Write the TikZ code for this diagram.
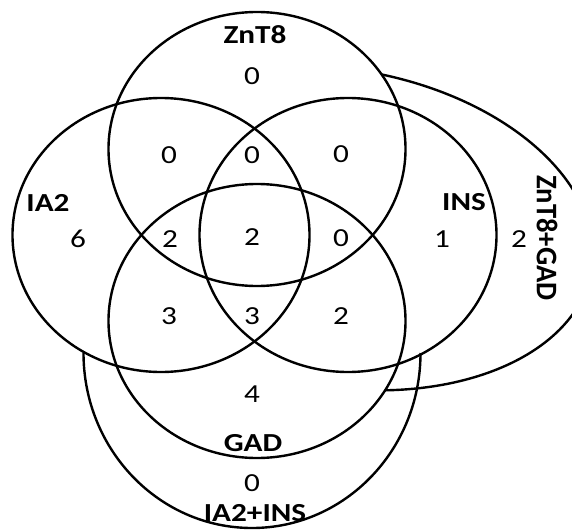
\documentclass[tikz,border=0pt]{standalone}
\usepackage{fontspec}
\setmainfont{Carlito}
\newcommand{\wide}[1]{\scalebox{1.2}[1]{#1}}
\tikzset{
  ring/.style={line width=2.4pt},
  count/.style={font=\fontsize{26}{30}\selectfont, inner sep=0pt},
  setname/.style={font=\bfseries\fontsize{26}{30}\selectfont, inner sep=0pt},
}
\begin{document}
\begin{tikzpicture}[x=1pt,y=1pt]
  \useasboundingbox (0,0) rectangle (572,531);
  \clip (0,0) rectangle (572,531);
  \draw[ring] (257,382) ellipse [x radius=148.5, y radius=137];
  \draw[ring] (161,296) ellipse [x radius=148.5, y radius=137];
  \draw[ring] (348,296) ellipse [x radius=148.5, y radius=137];
  \draw[ring] (257,210) ellipse [x radius=148.5, y radius=137];
  \draw[ring] (83.5,178) arc [start angle=180, end angle=360, x radius=168.5, y radius=175];
  \begin{scope}[shift={(338,303)}, rotate=-9.4]
    \draw[ring] (86:257 and 159) arc [start angle=86, end angle=-73.5, x radius=257, y radius=159];
  \end{scope}
  \node[setname] (znt8) at (255,496) {\wide{ZnT8}};
  \node[setname] (ia2) at (48,328) {\wide{IA2}};
  \node[setname] (ins) at (464,329) {\wide{INS}};
  \node[setname] (gad) at (253,88) {\wide{GAD}};
  \node[setname] (ia2ins) at (255,18) {\wide{IA2+INS}};
  \node[setname, rotate=-90] (znt8gad) at (547,293) {\scalebox{1.1}[1.15]{ZnT8+GAD}};
  \node[count] (n-z) at (252,455) {\wide{0}};
  \node[count] (n-zi) at (169,376) {\wide{0}};
  \node[count] (n-zii) at (252,376) {\wide{0}};
  \node[count] (n-zn) at (341,377) {\wide{0}};
  \node[count] (n-i) at (78,292) {\wide{6}};
  \node[count] (n-izg) at (170,292) {\wide{2}};
  \node[count] (n-all) at (252,294) {\wide{2}};
  \node[count] (n-nzg) at (341,293) {\wide{0}};
  \node[count] (n-n) at (442,292) {\wide{1}};
  \node[count] (n-zg) at (519,292) {\wide{2}};
  \node[count] (n-ig) at (169,215) {\wide{3}};
  \node[count] (n-ing) at (252,215) {\wide{3}};
  \node[count] (n-ng) at (341,215) {\wide{2}};
  \node[count] (n-g) at (252,137) {\wide{4}};
  \node[count] (n-in) at (252,48) {\wide{0}};
\end{tikzpicture}
\end{document}
